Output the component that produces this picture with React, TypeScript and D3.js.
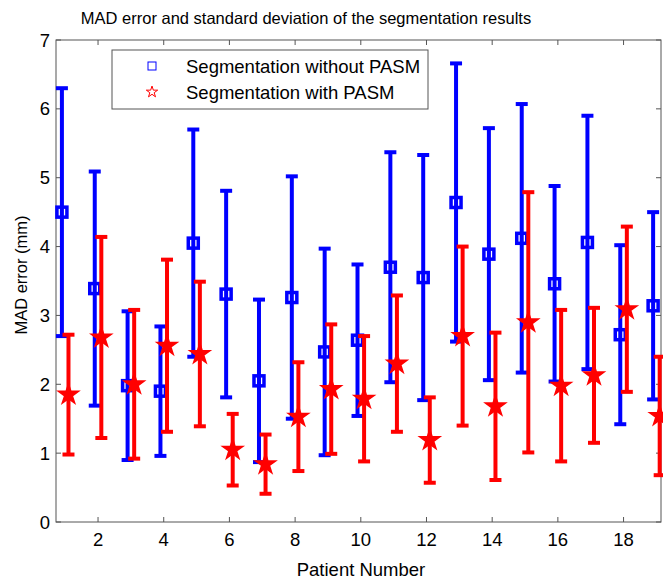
import React from 'react';
import * as d3 from 'd3';

const patients = [1, 2, 3, 4, 5, 6, 7, 8, 9, 10, 11, 12, 13, 14, 15, 16, 17, 18, 19];
const meanWithout = [4.5, 3.39, 1.98, 1.9, 4.05, 3.31, 2.05, 3.26, 2.47, 2.64, 3.7, 3.55, 4.64, 3.89, 4.12, 3.46, 4.06, 2.72, 3.14];
const stdWithout = [1.8, 1.7, 1.08, 0.94, 1.65, 1.5, 1.18, 1.76, 1.5, 1.1, 1.67, 1.78, 2.02, 1.83, 1.95, 1.42, 1.84, 1.3, 1.36];
const meanWith = [1.85, 2.68, 2.0, 2.56, 2.44, 1.05, 0.84, 1.53, 1.93, 1.79, 2.3, 1.19, 2.7, 1.68, 2.9, 1.98, 2.13, 3.09, 1.54];
const stdWith = [0.87, 1.46, 1.08, 1.25, 1.05, 0.52, 0.43, 0.79, 0.94, 0.91, 0.99, 0.62, 1.3, 1.07, 1.89, 1.1, 0.98, 1.2, 0.86];
const xTicks = [2, 4, 6, 8, 10, 12, 14, 16, 18];
const yTicks = [0, 1, 2, 3, 4, 5, 6, 7];
const legendLabels = ['Segmentation without PASM', 'Segmentation with PASM'];

const W = 663;
const H = 580;
const left = 56, right = 661, top = 40, bottom = 522;
const FONT = 'Liberation Sans, Arial, sans-serif';
const FS = 18.5;

const App = () => {
  const x = d3.scaleLinear().domain([0.72, 19.14]).range([left, right]);
  const y = d3.scaleLinear().domain([0, 7]).range([bottom, top]);
  const star = d3.symbol().type(d3.symbolStar).size(125)();
  const smallStar = d3.symbol().type(d3.symbolStar).size(40)();
  const cap = 6;

  const series = [
    { mean: meanWithout, std: stdWithout, color: '#0000ff', off: -0.1, kind: 'square' },
    { mean: meanWith, std: stdWith, color: '#ff0000', off: 0.1, kind: 'star' },
  ];

  return (
    <svg width={W} height={H} style={{ position: 'absolute', left: 0, top: 0, background: '#fff' }}>
      <rect x={0} y={0} width={W} height={H} fill="#fff" />
      {/* axes box */}
      <rect x={left} y={top} width={right - left} height={bottom - top} fill="none" stroke="#555" strokeWidth={1} />
      {xTicks.map(t => (
        <g key={'xt' + t}>
          <line x1={x(t)} x2={x(t)} y1={bottom} y2={bottom - 5} stroke="#555" />
          <line x1={x(t)} x2={x(t)} y1={top} y2={top + 5} stroke="#555" />
          <text x={x(t)} y={546} textAnchor="middle" fontFamily={FONT} fontSize={FS} fill="#000">{t}</text>
        </g>
      ))}
      {yTicks.map(t => (
        <g key={'yt' + t}>
          <line x1={left} x2={left + 5} y1={y(t)} y2={y(t)} stroke="#555" />
          <line x1={right} x2={right - 5} y1={y(t)} y2={y(t)} stroke="#555" />
          <text x={50} y={y(t) + 6.5} textAnchor="end" fontFamily={FONT} fontSize={FS} fill="#000">{t}</text>
        </g>
      ))}
      <text x={306} y={24} textAnchor="middle" fontFamily={FONT} fontSize={16.5} fill="#000">
        MAD error and standard deviation of the segmentation results
      </text>
      <text x={361} y={576} textAnchor="middle" fontFamily={FONT} fontSize={FS} fill="#000">Patient Number</text>
      <text transform={`translate(27,275) rotate(-90)`} textAnchor="middle" fontFamily={FONT} fontSize={16.5} fill="#000">
        MAD error (mm)
      </text>

      {series.map((s, si) => (
        <g key={'s' + si}>
          {patients.map((p, i) => {
            const cx = x(p + s.off);
            const y1 = y(s.mean[i] - s.std[i]);
            const y2 = y(s.mean[i] + s.std[i]);
            const cy = y(s.mean[i]);
            return (
              <g key={i}>
                <line x1={cx} x2={cx} y1={y1} y2={y2} stroke={s.color} strokeWidth={4} />
                <line x1={cx - cap} x2={cx + cap} y1={y1} y2={y1} stroke={s.color} strokeWidth={4} />
                <line x1={cx - cap} x2={cx + cap} y1={y2} y2={y2} stroke={s.color} strokeWidth={4} />
                {s.kind === 'square' ? (
                  <rect x={cx - 5} y={cy - 5} width={10} height={10} fill="none" stroke={s.color} strokeWidth={3.5} />
                ) : (
                  <path d={star} transform={`translate(${cx},${cy})`} fill={s.color} stroke={s.color} strokeWidth={1.5} />
                )}
              </g>
            );
          })}
        </g>
      ))}

      {/* legend */}
      <rect x={112} y={50} width={316} height={59} fill="#fff" stroke="#555" strokeWidth={1} />
      <rect x={148} y={62} width={8} height={8} fill="none" stroke="#0000ff" strokeWidth={1} />
      <path d={smallStar} transform="translate(152,92)" fill="none" stroke="#ff0000" strokeWidth={1} />
      <text x={186} y={73} fontFamily={FONT} fontSize={FS} fill="#000">{legendLabels[0]}</text>
      <text x={186} y={99} fontFamily={FONT} fontSize={FS} fill="#000">{legendLabels[1]}</text>
    </svg>
  );
};

export default App;
